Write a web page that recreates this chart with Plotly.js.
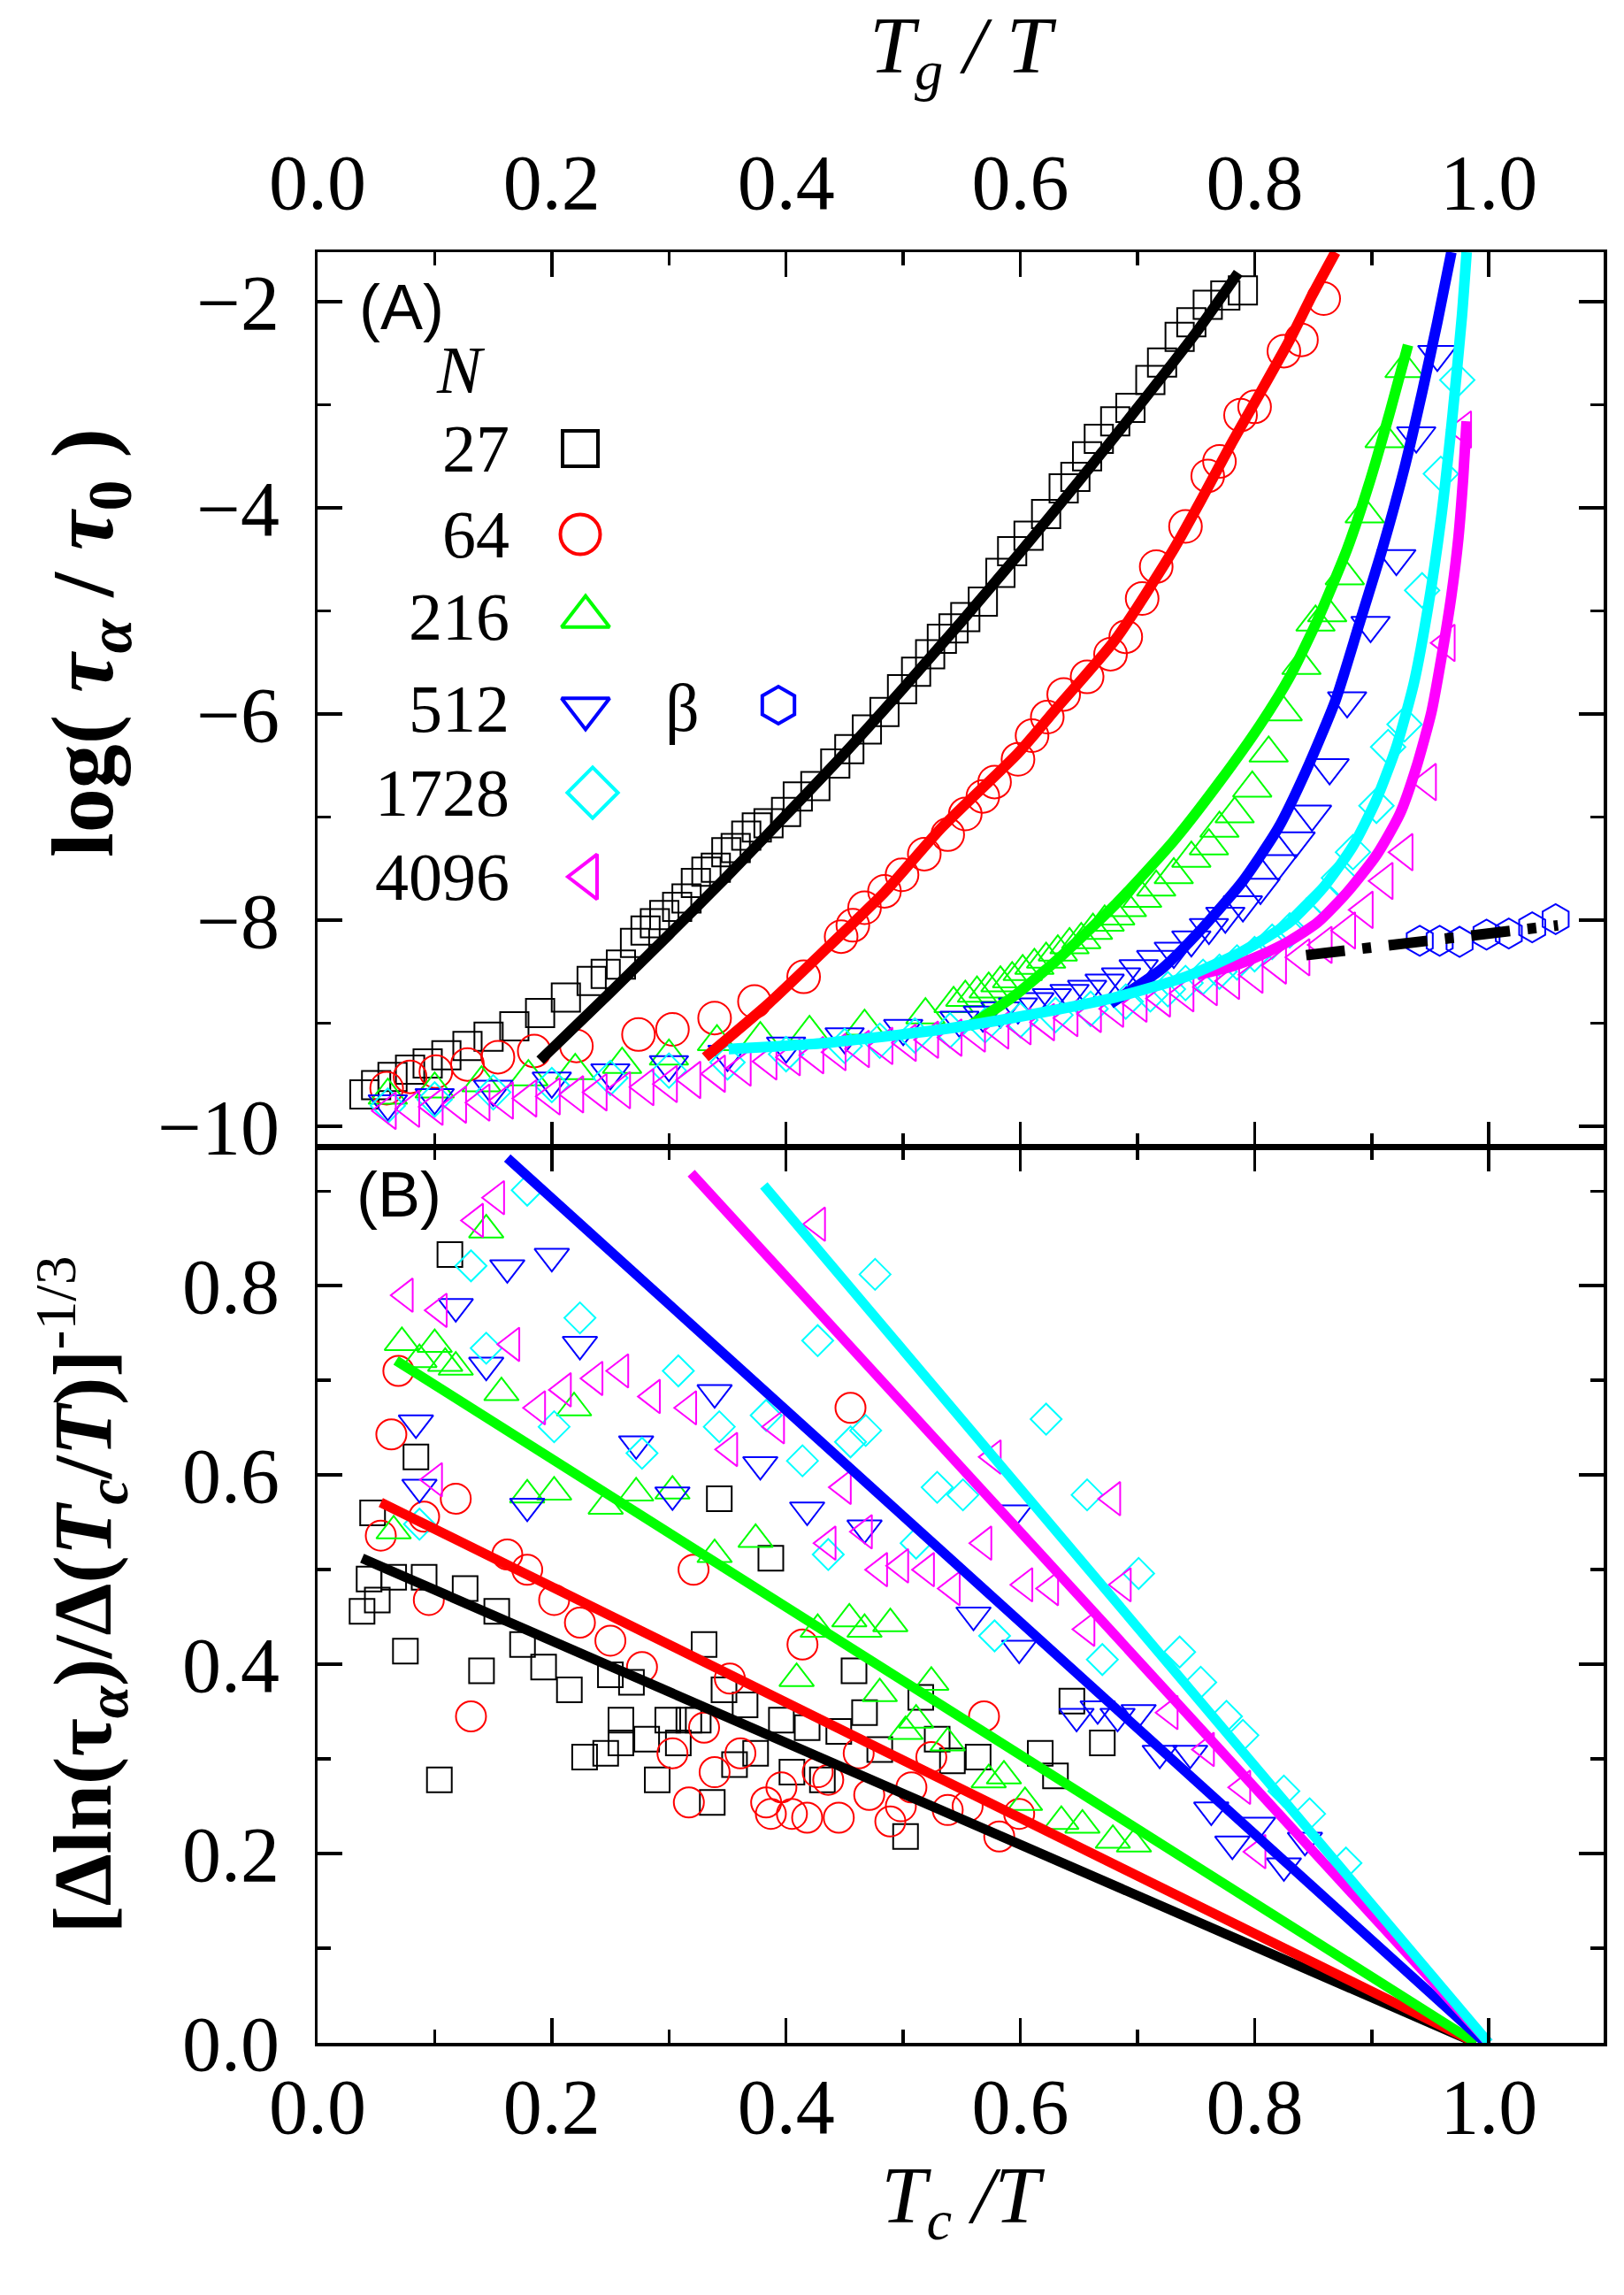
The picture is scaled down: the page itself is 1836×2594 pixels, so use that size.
<!DOCTYPE html>
<html>
<head>
<meta charset="utf-8">
<script src="https://cdn.plot.ly/plotly-3.0.1.min.js"></script>
<style>html,body{margin:0;padding:0;background:#fff}</style>
</head>
<body>
<div id="chart" style="width:1836px;height:2594px"></div>
<script>
// ---- panel A: log(tau_alpha/tau_0) vs Tg/T, points [x, y] ----
const A27 = [[.040,-9.69],[.050,-9.60],[.064,-9.52],[.079,-9.45],[.094,-9.39],[.110,-9.31],[.128,-9.22],[.146,-9.13],[.168,-9.03],[.190,-8.90],[.212,-8.75],[.234,-8.59],[.246,-8.52],
  [.259,-8.43],[.271,-8.22],[.280,-8.10],[.288,-8.03],[.296,-7.95],[.307,-7.87],[.315,-7.79],[.323,-7.64],[.332,-7.53],[.340,-7.49],[.349,-7.34],[.357,-7.30],[.366,-7.18],[.375,-7.10],
  [.385,-7.06],[.400,-6.95],[.410,-6.80],[.425,-6.70],[.442,-6.48],[.454,-6.34],[.469,-6.15],[.484,-5.98],[.499,-5.76],[.511,-5.59],[.523,-5.42],[.533,-5.27],[.543,-5.17],[.553,-5.06],
  [.568,-4.91],[.583,-4.63],[.593,-4.42],[.607,-4.27],[.622,-4.06],[.637,-3.81],[.647,-3.70],[.657,-3.50],[.667,-3.33],[.681,-3.16],[.694,-3.03],[.711,-2.76],[.721,-2.59],[.736,-2.34],
  [.746,-2.20],[.760,-2.03],[.775,-1.94],[.790,-1.89]];
const A64 = [[.059,-9.63],[.079,-9.52],[.101,-9.47],[.128,-9.40],[.154,-9.33],[.185,-9.27],[.221,-9.22],[.274,-9.11],[.303,-9.06],[.339,-8.95],[.373,-8.79],
  [.415,-8.55],[.447,-8.16],[.457,-8.05],[.467,-7.88],[.484,-7.72],[.499,-7.56],[.518,-7.36],[.538,-7.17],[.553,-6.97],[.568,-6.80],[.578,-6.66],[.598,-6.44],[.610,-6.21],
  [.623,-6.03],[.637,-5.81],[.657,-5.64],[.677,-5.42],[.690,-5.25],[.704,-4.88],[.716,-4.57],[.741,-4.18],[.760,-3.69],[.770,-3.55],[.788,-3.10],[.800,-3.02],[.825,-2.48],
  [.840,-2.37],[.859,-1.97]];
const A216 = [[.06,-9.70],[.10,-9.64],[.14,-9.58],[.18,-9.52],[.22,-9.46],[.26,-9.40],[.30,-9.32],
  [.341,-9.18],[.378,-9.15],[.420,-9.09],[.467,-9.03],[.519,-8.92],[.543,-8.81],[.553,-8.75],[.563,-8.71],[.573,-8.67],[.583,-8.61],[.593,-8.57],[.602,-8.50],[.612,-8.44],
  [.622,-8.38],[.632,-8.31],[.642,-8.24],[.652,-8.19],[.662,-8.10],[.672,-8.02],[.681,-7.96],[.691,-7.88],[.704,-7.79],[.716,-7.68],[.731,-7.56],[.746,-7.40],[.761,-7.28],
  [.770,-7.11],[.783,-6.97],[.798,-6.72],[.812,-6.38],[.824,-5.98],[.840,-5.53],[.852,-5.11],[.862,-5.02],[.877,-4.66],[.894,-4.06],[.911,-3.33],[.928,-2.65]];
const A512 = [[.06,-9.78],[.10,-9.72],[.15,-9.64],[.20,-9.56],[.25,-9.48],[.30,-9.40],[.35,-9.30],[.40,-9.22],[.45,-9.13],[.50,-9.05],
  [.548,-8.97],[.568,-8.92],[.583,-8.88],[.598,-8.84],[.612,-8.79],[.627,-8.75],[.642,-8.71],[.657,-8.67],[.672,-8.61],[.686,-8.55],[.701,-8.47],[.716,-8.38],[.731,-8.30],
  [.746,-8.19],[.761,-8.07],[.775,-7.96],[.790,-7.85],[.805,-7.68],[.820,-7.45],[.835,-7.23],[.849,-6.97],[.864,-6.52],[.879,-5.87],[.899,-5.14],[.921,-4.49],[.938,-3.30],[.956,-2.51]];
const A1728 = [[.06,-9.80],[.10,-9.74],[.15,-9.67],[.20,-9.60],[.25,-9.53],[.30,-9.46],[.35,-9.38],[.40,-9.30],[.45,-9.22],[.48,-9.17],[.51,-9.12],[.54,-9.07],[.57,-9.02],
  [.60,-8.97],[.63,-8.92],[.66,-8.86],[.69,-8.79],[.711,-8.72],[.726,-8.67],[.741,-8.61],[.756,-8.55],[.770,-8.50],[.785,-8.41],[.800,-8.33],[.815,-8.21],[.830,-8.10],
  [.844,-7.96],[.859,-7.79],[.872,-7.59],[.884,-7.34],[.904,-6.89],[.914,-6.32],[.928,-6.10],[.943,-4.80],[.959,-3.67],[.973,-2.76]];
const A4096 = [[.06,-9.85],[.08,-9.83],[.10,-9.81],[.12,-9.79],[.14,-9.77],[.16,-9.75],[.18,-9.73],[.20,-9.71],[.22,-9.69],[.24,-9.67],[.26,-9.65],[.28,-9.62],[.30,-9.59],[.32,-9.55],
  [.341,-9.49],[.363,-9.43],[.385,-9.37],[.405,-9.33],[.425,-9.31],[.444,-9.28],[.464,-9.25],[.484,-9.22],[.504,-9.19],[.523,-9.16],[.543,-9.14],[.563,-9.10],[.583,-9.07],
  [.602,-9.03],[.622,-8.99],[.642,-8.95],[.662,-8.91],[.681,-8.86],[.701,-8.81],[.721,-8.76],[.741,-8.71],[.761,-8.65],[.780,-8.59],[.800,-8.53],[.820,-8.44],[.840,-8.36],
  [.859,-8.24],[.879,-8.10],[.894,-7.90],[.911,-7.62],[.928,-7.34],[.948,-6.66],[.964,-5.31],[.978,-3.24]];
const A_BETA = [[.941,-8.20],[.958,-8.20],[.975,-8.21],[.998,-8.14],[1.017,-8.13],[1.037,-8.07],[1.057,-7.99]];

// fitted curves in panel A
const FIT_A27 = [[.19,-9.36],[.25,-8.70],[.30,-8.14],[.35,-7.57],[.40,-6.98],[.45,-6.38],[.50,-5.75],[.55,-5.10],[.60,-4.43],[.65,-3.74],[.70,-3.03],[.75,-2.30],[.786,-1.72]];
const FIT_A64 = [[.331,-9.33],[.385,-8.81],[.435,-8.27],[.484,-7.73],[.533,-7.10],[.598,-6.38],[.632,-5.93],[.681,-5.28],[.731,-4.40],[.756,-3.89],[.780,-3.38],[.805,-2.88],[.830,-2.37],[.849,-1.94],[.869,-1.52]];
const FIT_A216 = [[.556,-9.03],[.593,-8.75],[.632,-8.38],[.681,-7.85],[.731,-7.23],[.770,-6.66],[.805,-6.10],[.830,-5.64],[.854,-5.08],[.879,-4.40],[.899,-3.72],[.916,-3.05],[.931,-2.42]];
const FIT_A512 = [[.677,-8.81],[.721,-8.47],[.756,-8.07],[.790,-7.62],[.820,-7.11],[.844,-6.55],[.869,-5.87],[.889,-5.14],[.909,-4.40],[.928,-3.61],[.943,-2.88],[.956,-2.20],[.968,-1.52]];
const FIT_A1728 = [[.351,-9.25],[.435,-9.19],[.533,-9.06],[.607,-8.92],[.681,-8.75],[.741,-8.55],[.790,-8.30],[.830,-8.02],[.859,-7.68],[.884,-7.28],[.904,-6.83],[.921,-6.32],[.936,-5.70],[.948,-4.97],[.959,-4.12],[.969,-3.10],[.977,-2.14],[.981,-1.52]];
const FIT_A4096 = [[.751,-8.53],[.780,-8.45],[.805,-8.34],[.830,-8.20],[.854,-8.02],[.879,-7.73],[.904,-7.37],[.924,-6.97],[.938,-6.52],[.951,-5.98],[.960,-5.42],[.968,-4.85],[.974,-4.29],[.978,-3.72],[.981,-3.16]];
const FIT_BETA = [[.844,-8.34],[.879,-8.29],[.909,-8.27],[.938,-8.21],[.978,-8.16],[1.017,-8.10],[1.059,-8.05]];

// ---- panel B: [dln(tau)/d(Tc/T)]^(-1/3) vs Tc/T ----
const B27 = [[.038,.456],[.044,.490],[.051,.468],[.047,.560],[.065,.492],[.075,.414],[.084,.619],[.091,.492],[.104,.278],[.113,.833],[.126,.480],[.140,.393],[.153,.456],
  [.175,.421],[.193,.397],[.215,.373],[.228,.302],[.246,.306],[.250,.389],[.259,.317],[.259,.341],[.268,.381],[.281,.321],[.290,.278],[.299,.341],[.308,.317],[.317,.341],
  [.325,.341],[.330,.421],[.337,.254],[.343,.575],[.347,.373],[.356,.294],[.365,.357],[.374,.306],[.387,.512],[.396,.341],[.405,.286],[.418,.333],[.431,.278],[.445,.329],
  [.458,.393],[.467,.349],[.480,.310],[.502,.218],[.515,.365],[.529,.321],[.542,.298],[.564,.302],[.617,.306],[.630,.282],[.644,.361],[.670,.317]];
const B64 = [[.054,.536],[.063,.643],[.069,.710],[.091,.556],[.095,.468],[.118,.575],[.131,.345],[.162,.516],[.179,.500],[.202,.468],[.224,.444],[.250,.425],[.277,.397],
  [.303,.306],[.317,.254],[.321,.500],[.330,.333],[.339,.286],[.352,.385],[.361,.306],[.383,.254],[.387,.242],[.396,.270],[.405,.242],[.414,.421],[.418,.238],[.427,.286],
  [.436,.278],[.445,.238],[.455,.671],[.462,.306],[.471,.262],[.489,.234],[.498,.250],[.507,.270],[.524,.302],[.538,.246],[.555,.250],[.569,.345],[.582,.218],[.599,.242]];
const B216 = [[.065,.541],[.072,.740],[.087,.722],[.100,.738],[.109,.718],[.118,.714],[.144,.859],[.157,.687],[.179,.579],[.202,.582],[.219,.671],[.246,.567],[.272,.581],
  [.303,.583],[.339,.516],[.374,.532],[.409,.385],[.427,.437],[.454,.448],[.467,.437],[.480,.369],[.489,.443],[.502,.329],[.511,.341],[.524,.381],[.538,.317],[.573,.278],
  [.586,.282],[.604,.254],[.635,.234],[.653,.230],[.679,.214],[.697,.210]];
const B512 = [[.084,.655],[.087,.587],[.118,.778],[.144,.716],[.162,.819],[.200,.831],[.179,.567],[.224,.738],[.272,.633],[.303,.579],[.339,.687],[.378,.611],[.418,.563],
  [.467,.544],[.560,.452],[.595,.560],[.599,.417],[.648,.345],[.666,.353],[.683,.345],[.701,.349],[.719,.306],[.745,.306],[.763,.246],[.781,.210],[.803,.230],[.825,.187],[.843,.214]];
const B1728 = [[.087,.548],[.131,.821],[.144,.734],[.179,.901],[.202,.651],[.224,.766],[.277,.623],[.308,.710],[.343,.651],[.383,.663],[.414,.615],[.427,.742],[.436,.516],
  [.455,.635],[.468,.647],[.476,.812],[.511,.528],[.529,.587],[.551,.579],[.578,.430],[.622,.659],[.657,.579],[.670,.405],[.701,.496],[.736,.413],[.754,.381],[.776,.345],
  [.790,.325],[.825,.266],[.847,.242],[.878,.190]];
const B4096 = [[.075,.790],[.104,.774],[.100,.595],[.135,.869],[.153,.893],[.166,.738],[.188,.671],[.210,.690],[.237,.702],[.259,.710],[.286,.683],[.317,.671],[.352,.627],
  [.392,.651],[.427,.865],[.436,.528],[.449,.587],[.467,.540],[.480,.500],[.498,.504],[.520,.500],[.542,.480],[.569,.528],[.577,.619],[.604,.484],[.626,.480],[.657,.437],
  [.679,.575],[.688,.484],[.728,.349],[.759,.310],[.790,.270],[.803,.202]];

// straight fits in panel B (end points)
const FIT_B27 = [[.038,.512],[.989,0]];
const FIT_B64 = [[.054,.571],[.989,0]];
const FIT_B216 = [[.067,.721],[.989,0]];
const FIT_B512 = [[.162,.935],[.997,0]];
const FIT_B1728 = [[.381,.906],[1.0,0]];
const FIT_B4096 = [[.319,.919],[1.0,0]];

const SIZES = ['27','64','216','512','1728','4096'];
const COLORS = ['#000000','#ff0000','#00ff00','#0000ff','#00ffff','#ff00ff'];
const SYMBOLS = ['square-open','circle-open','triangle-up-open','triangle-down-open','diamond-open','triangle-left-open'];

const SERIF = '"Liberation Serif", "DejaVu Serif", serif';
const SANS = '"Liberation Sans", Arial, sans-serif';

// page geometry (px) of the two stacked frames
const PX = {left:359, right:1813, top:285, mid:1296, bottom:2309};
const XR = [0, 1.098], YA = [-10.197, -1.519], YB = [0, 0.947];
const px2x = p => XR[0] + (p - PX.left) / (PX.right - PX.left) * (XR[1] - XR[0]);
const py2a = p => YA[1] - (p - PX.top) / (PX.mid - PX.top) * (YA[1] - YA[0]);
const paperX = p => (p - PX.left) / (PX.right - PX.left);
const paperY = p => (PX.bottom - p) / (PX.bottom - PX.top);
const split = paperY(PX.mid);

const xs = a => a.map(p => p[0]), ys = a => a.map(p => p[1]);

const dataA = [A27, A64, A216, A512, A1728, A4096];
const fitsA = [FIT_A27, FIT_A64, FIT_A216, FIT_A512, FIT_A1728, FIT_A4096];
const dataB = [B27, B64, B216, B512, B1728, B4096];
const fitsB = [FIT_B27, FIT_B64, FIT_B216, FIT_B512, FIT_B1728, FIT_B4096];
const sizeA = [32, 37, 38, 38, 30, 36];
const sizeB = [28, 34, 34, 34, 27, 33];
const lineOrder = [0, 1, 2, 3, 5, 4];

const traces = [];
dataA.forEach((d, i) => traces.push({
  x: xs(d), y: ys(d), xaxis: 'x2', yaxis: 'y2', mode: 'markers', name: SIZES[i],
  marker: {symbol: SYMBOLS[i], size: sizeA[i], color: COLORS[i], line: {width: 2, color: COLORS[i]}}
}));
traces.push({x: xs(A_BETA), y: ys(A_BETA), xaxis: 'x2', yaxis: 'y2', mode: 'markers', name: 'β',
  marker: {symbol: 'hexagon-open', size: 34, color: '#0000ff', line: {width: 2, color: '#0000ff'}}});
lineOrder.forEach(i => traces.push({
  x: xs(fitsA[i]), y: ys(fitsA[i]), xaxis: 'x2', yaxis: 'y2', mode: 'lines',
  line: {color: COLORS[i], width: 12, shape: 'spline', smoothing: 0.6}
}));
traces.push({x: xs(FIT_BETA), y: ys(FIT_BETA), xaxis: 'x2', yaxis: 'y2', mode: 'lines',
  line: {color: '#000000', width: 12, dash: '44px,20px,10px,20px'}});

dataB.forEach((d, i) => traces.push({
  x: xs(d), y: ys(d), xaxis: 'x', yaxis: 'y', mode: 'markers', name: SIZES[i],
  marker: {symbol: SYMBOLS[i], size: sizeB[i], color: COLORS[i], line: {width: 2, color: COLORS[i]}}
}));
lineOrder.forEach(i => traces.push({
  x: xs(fitsB[i]), y: ys(fitsB[i]), xaxis: 'x', yaxis: 'y', mode: 'lines',
  line: {color: COLORS[i], width: 11}
}));

// hand-made key (numbers to the left of the symbols, as in the figure)
const KEY_ROWS = [507, 604, 697, 801, 896, 991];
const KEY_X = [656, 656, 662, 662, 670, 664];
const keySize = [40, 45, 47, 47, 44, 44];
KEY_ROWS.forEach((py, i) => traces.push({
  x: [px2x(KEY_X[i])], y: [py2a(py)], xaxis: 'x2', yaxis: 'y2', mode: 'markers', hoverinfo: 'skip',
  marker: {symbol: SYMBOLS[i], size: keySize[i], color: COLORS[i], line: {width: 4, color: COLORS[i]}}
}));
traces.push({x: [px2x(880)], y: [py2a(797)], xaxis: 'x2', yaxis: 'y2', mode: 'markers', hoverinfo: 'skip',
  marker: {symbol: 'hexagon-open', size: 42, color: '#0000ff', line: {width: 4, color: '#0000ff'}}});

const annotations = [
  {text: '(A)', x: paperX(454), y: paperY(347), font: {family: SANS, size: 72}},
  {text: '(B)', x: paperX(451), y: paperY(1350), font: {family: SANS, size: 72}},
  {text: '<i>N</i>', x: paperX(521), y: paperY(418), font: {family: SERIF, size: 76}},
  {text: 'β', x: paperX(771), y: paperY(800), font: {family: SERIF, size: 76}},
  // y title of panel A sits above the middle of its frame in the figure
  {text: '<b>log( <i>τ</i><sub><i>α</i></sub> / <i>τ</i><sub>0</sub> )</b>', x: paperX(100), y: paperY(727),
    textangle: -90, font: {family: SERIF, size: 100}},
  ...KEY_ROWS.map((py, i) => ({text: SIZES[i], x: paperX(578), y: paperY(py), xanchor: 'right',
    font: {family: SERIF, size: 76}}))
].map(a => Object.assign({xref: 'paper', yref: 'paper', showarrow: false, xanchor: 'center', yanchor: 'middle'}, a));

const axisBase = {
  showline: true, linecolor: '#000', linewidth: 3.5, mirror: 'ticks',
  ticks: 'inside', ticklen: 28, tickwidth: 3.5, tickcolor: '#000',
  showgrid: false, zeroline: false, fixedrange: true,
  tickfont: {family: SERIF, size: 88, color: '#000'}
};
const minorX = {ticks: 'inside', ticklen: 15, tickwidth: 3.5, tickcolor: '#000', dtick: 0.1};

const layout = {
  width: 1836, height: 2594,
  margin: {l: PX.left, r: 1836 - PX.right, t: PX.top, b: 2594 - PX.bottom},
  paper_bgcolor: '#fff', plot_bgcolor: '#fff', showlegend: false,
  font: {family: SERIF, color: '#000'},
  xaxis: {...axisBase, anchor: 'y', domain: [0, 1], range: XR, tick0: 0, dtick: 0.2, tickformat: '.1f',
    ticklabelstandoff: -7, minor: minorX,
    title: {text: '<i>T</i><sub><i>c</i></sub><i> /T</i>', font: {family: SERIF, size: 92}, standoff: 12}},
  xaxis2: {...axisBase, anchor: 'y2', matches: 'x', side: 'top', range: XR, tick0: 0, dtick: 0.2, tickformat: '.1f',
    ticklabelstandoff: 10, minor: minorX,
    title: {text: '<i>T</i><sub><i>g</i></sub><i> / T</i>', font: {family: SERIF, size: 92}, standoff: 78}},
  yaxis: {...axisBase, anchor: 'x', domain: [0, split], range: YB, tick0: 0, dtick: 0.2, tickformat: '.1f',
    ticklabelstandoff: 22,
    minor: {ticks: 'inside', ticklen: 15, tickwidth: 3.5, tickcolor: '#000', dtick: 0.1},
    title: {text: '<b>[Δln(τ<sub><i>α</i></sub>)/Δ(<i>T</i><sub><i>c</i></sub>/<i>T</i>)]</b><sup>-1/3</sup>',
      font: {family: SERIF, size: 94}, standoff: 50}},
  yaxis2: {...axisBase, anchor: 'x2', domain: [split, 1], range: YA, tick0: -10, dtick: 2,
    ticklabelstandoff: 22,
    minor: {ticks: 'inside', ticklen: 15, tickwidth: 3.5, tickcolor: '#000', dtick: 1}},
  annotations
};

Plotly.newPlot('chart', traces, layout, {displayModeBar: false, staticPlot: true});
</script>
</body>
</html>
